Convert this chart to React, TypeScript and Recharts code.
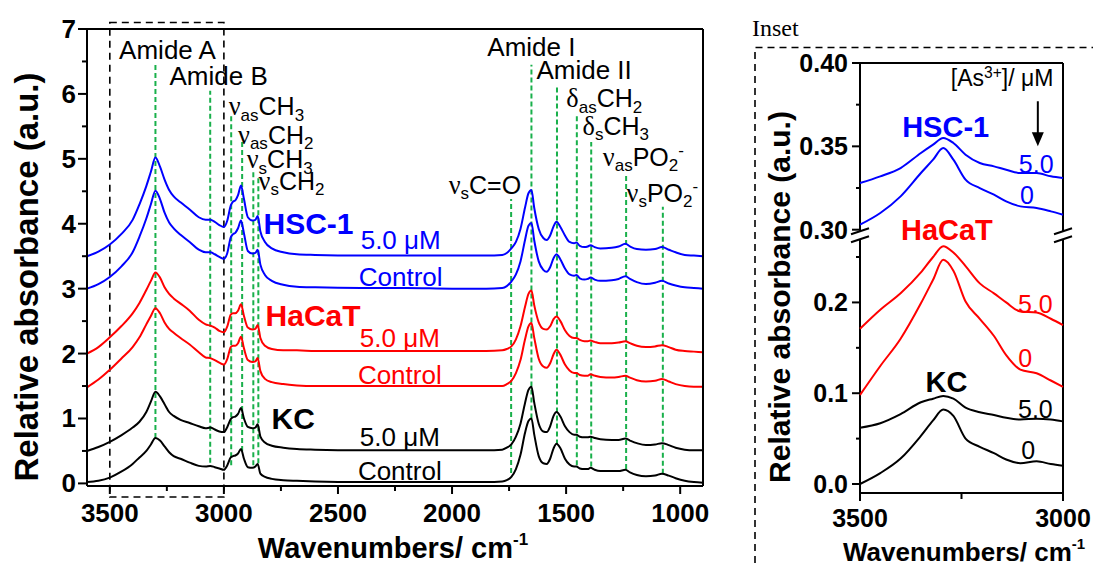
import {
  LineChart,
  Line,
  XAxis,
  YAxis,
  ReferenceLine,
  ReferenceArea,
  ReferenceDot,
} from "recharts";

// ---- main spectra (wavenumber grid + one array per sample) ----
const MAIN_WN = [
  3600, 3550, 3500, 3450, 3400, 3370, 3340, 3320, 3300, 3280,
  3260, 3240, 3220, 3190, 3150, 3110, 3080, 3060, 3040, 3020,
  3000, 2985, 2970, 2960, 2950, 2938, 2925, 2912, 2895, 2875,
  2862, 2852, 2840, 2820, 2790, 2740, 2680, 2600, 2400, 2200,
  2000, 1850, 1780, 1760, 1740, 1720, 1700, 1680, 1665, 1652,
  1640, 1620, 1600, 1585, 1570, 1555, 1542, 1525, 1505, 1485,
  1465, 1455, 1440, 1420, 1405, 1393, 1375, 1350, 1300, 1270,
  1240, 1220, 1190, 1150, 1110, 1080, 1050, 1020, 980, 940,
  900,
];

const HSC1_50 = [
  3.5, 3.57, 3.68, 3.84, 4.06, 4.3, 4.58, 4.8, 5.02, 4.88,
  4.68, 4.52, 4.42, 4.33, 4.22, 4.1, 4.06, 4.06, 4.03, 3.98,
  3.95, 4.05, 4.28, 4.34, 4.36, 4.44, 4.59, 4.38, 4.1, 4.05,
  4.06, 4.12, 3.88, 3.72, 3.62, 3.56, 3.53, 3.52, 3.51, 3.51,
  3.51, 3.51, 3.52, 3.55, 3.62, 3.72, 3.92, 4.25, 4.47, 4.52,
  4.25, 3.92, 3.78, 3.75, 3.82, 3.96, 4.03, 3.95, 3.82, 3.72,
  3.7, 3.71, 3.66, 3.64, 3.65, 3.67, 3.64, 3.62, 3.63, 3.65,
  3.69, 3.65, 3.61, 3.6, 3.61, 3.64, 3.6, 3.56, 3.52, 3.51,
  3.5,
];

const HSC1_CTRL = [
  3.0, 3.07, 3.18, 3.34, 3.56, 3.8, 4.08, 4.3, 4.51, 4.38,
  4.17, 4.02, 3.93, 3.83, 3.72, 3.6, 3.56, 3.56, 3.53, 3.49,
  3.46, 3.55, 3.79, 3.84, 3.86, 3.93, 4.05, 3.85, 3.58, 3.54,
  3.55, 3.6, 3.37, 3.21, 3.12, 3.06, 3.03, 3.02, 3.01, 3.01,
  3.0, 3.0, 3.01, 3.04, 3.11, 3.22, 3.42, 3.75, 3.97, 4.01,
  3.75, 3.42, 3.29, 3.26, 3.33, 3.47, 3.53, 3.45, 3.31, 3.22,
  3.2, 3.21, 3.16, 3.14, 3.15, 3.17, 3.14, 3.12, 3.13, 3.15,
  3.19, 3.15, 3.1, 3.07, 3.09, 3.12, 3.08, 3.05, 3.02, 3.01,
  3.0,
];

const HACAT_50 = [
  2.0, 2.1, 2.25, 2.42, 2.62, 2.78, 2.98, 3.12, 3.25, 3.17,
  3.02, 2.92, 2.85, 2.77, 2.66, 2.52, 2.45, 2.43, 2.4, 2.35,
  2.33, 2.42, 2.6, 2.62, 2.62, 2.66, 2.76, 2.58, 2.4, 2.37,
  2.38, 2.44, 2.24, 2.12, 2.07, 2.05, 2.05, 2.04, 2.04, 2.04,
  2.04, 2.04, 2.05, 2.07, 2.11, 2.22, 2.42, 2.72, 2.92, 2.97,
  2.75, 2.48, 2.38, 2.37, 2.42, 2.53, 2.57, 2.5, 2.36, 2.27,
  2.24, 2.24, 2.21, 2.19, 2.19, 2.2, 2.18, 2.16, 2.16, 2.17,
  2.19, 2.16, 2.12, 2.1, 2.11, 2.13, 2.1, 2.06, 2.04, 2.03,
  2.02,
];

const HACAT_CTRL = [
  1.48, 1.6, 1.75, 1.92, 2.1, 2.25, 2.45, 2.58, 2.7, 2.62,
  2.48, 2.38, 2.32, 2.24, 2.14, 2.02, 1.94, 1.93, 1.9, 1.86,
  1.83, 1.92, 2.1, 2.12, 2.12, 2.16, 2.26, 2.08, 1.9, 1.87,
  1.88, 1.93, 1.73, 1.61, 1.56, 1.53, 1.51, 1.5, 1.5, 1.5,
  1.5, 1.5, 1.5, 1.53, 1.58, 1.7, 1.9, 2.22, 2.42, 2.47,
  2.25, 1.92, 1.8, 1.78, 1.85, 1.99, 2.06, 1.98, 1.83, 1.74,
  1.7, 1.7, 1.67, 1.66, 1.66, 1.68, 1.66, 1.64, 1.63, 1.64,
  1.66, 1.63, 1.59, 1.57, 1.58, 1.61, 1.57, 1.53, 1.5, 1.49,
  1.49,
];

const KC_50 = [
  0.5, 0.56, 0.64, 0.74, 0.86, 0.95, 1.1, 1.26, 1.41, 1.34,
  1.22, 1.1, 1.04, 0.98, 0.93, 0.88, 0.85, 0.86, 0.83, 0.8,
  0.79, 0.87, 0.99, 1.02, 1.03, 1.07, 1.16, 1.0, 0.87, 0.85,
  0.86, 0.91, 0.72, 0.63, 0.58, 0.55, 0.53, 0.52, 0.51, 0.51,
  0.51, 0.51, 0.52, 0.55, 0.6, 0.72, 0.92, 1.24, 1.44, 1.49,
  1.25, 0.92, 0.8, 0.79, 0.88, 1.04, 1.1, 1.03, 0.88, 0.79,
  0.75, 0.75, 0.72, 0.71, 0.71, 0.72, 0.7, 0.68, 0.67, 0.67,
  0.69, 0.66, 0.62, 0.59, 0.6, 0.62, 0.59, 0.55, 0.52, 0.51,
  0.51,
];

const KC_CTRL = [
  0.02, 0.04, 0.09, 0.18, 0.3, 0.4, 0.5, 0.6, 0.7, 0.66,
  0.57, 0.48, 0.42, 0.38, 0.32, 0.27, 0.26, 0.27, 0.25, 0.23,
  0.21, 0.28, 0.4, 0.42, 0.43, 0.46, 0.53, 0.38, 0.25, 0.24,
  0.26, 0.3, 0.15, 0.1, 0.07, 0.05, 0.04, 0.03, 0.02, 0.02,
  0.02, 0.02, 0.03, 0.05, 0.1, 0.22, 0.44, 0.78, 0.96, 1.0,
  0.76, 0.42, 0.31, 0.3, 0.38, 0.54, 0.61, 0.54, 0.38, 0.29,
  0.26, 0.26, 0.23, 0.22, 0.22, 0.24, 0.21, 0.19, 0.19, 0.19,
  0.21, 0.17, 0.13, 0.11, 0.12, 0.15, 0.12, 0.08, 0.04, 0.02,
  0.01,
];

// band assignments (green dashed guides)
const BAND_WN = [3300, 3060, 2968, 2920, 2871, 2849, 1741, 1652, 1540, 1453, 1390, 1237, 1076];
const BAND_TOP = [6.46, 6.05, 5.7, 5.28, 4.83, 4.72, 4.38, 6.45, 6.14, 5.7, 5.26, 4.78, 4.26];
const BAND_BOTTOM = [0.7, 0.32, 0.28, 0.5, 0.28, 0.31, 0.16, 1.0, 0.6, 0.28, 0.26, 0.22, 0.15];

const MAIN_X_TICKS = [3500, 3250, 3000, 2750, 2500, 2250, 2000, 1750, 1500, 1250, 1000];
const MAIN_Y_TICKS = [0, 0.5, 1, 1.5, 2, 2.5, 3, 3.5, 4, 4.5, 5, 5.5, 6, 6.5, 7];

// ---- inset (Amide A region, broken y axis) ----
const INSET_WN = [3500, 3450, 3400, 3350, 3320, 3295, 3270, 3240, 3205, 3170, 3140, 3105, 3065, 3030, 3000];
const INSET_HSC1_50 = [0.328, 0.332, 0.337, 0.346, 0.351, 0.355, 0.352, 0.345, 0.34, 0.338, 0.336, 0.334, 0.334, 0.332, 0.331];
const INSET_HSC1_0 = [0.303, 0.31, 0.32, 0.334, 0.342, 0.349, 0.342, 0.33, 0.325, 0.321, 0.317, 0.314, 0.313, 0.311, 0.309];
const INSET_HACAT_50 = [0.171, 0.192, 0.21, 0.233, 0.25, 0.262, 0.255, 0.24, 0.221, 0.21, 0.2, 0.19, 0.189, 0.182, 0.175];
const INSET_HACAT_0 = [0.098, 0.13, 0.16, 0.199, 0.225, 0.247, 0.235, 0.201, 0.182, 0.163, 0.142, 0.126, 0.122, 0.114, 0.107];
const INSET_KC_50 = [0.062, 0.067, 0.077, 0.09, 0.094, 0.097, 0.094, 0.084, 0.079, 0.076, 0.073, 0.071, 0.072, 0.071, 0.069];
const INSET_KC_0 = [0.0, 0.012, 0.028, 0.053, 0.07, 0.082, 0.075, 0.05, 0.041, 0.034, 0.027, 0.023, 0.025, 0.022, 0.02];

const INSET_X_TICKS = [3500, 3250, 3000];
const INSET_Y_TICKS = [0, 0.05, 0.1, 0.15, 0.2, 0.25, 0.3, 0.325, 0.35, 0.375, 0.4];

// upper part of the broken axis (>= 0.30) is stretched and shifted
const UPPER_BASE = 0.2801;
const UPPER_STRETCH = 1.836;
const toInset = (v: number) => (v >= 0.29 ? UPPER_BASE + (v - 0.3) * UPPER_STRETCH : v);
const INSET_TOP = toInset(0.4);
const INSET_BOTTOM = -0.0099;

const FONT = "'Liberation Sans', Arial, Helvetica, sans-serif";
const SERIF = "'Liberation Serif', 'Times New Roman', serif";
const BLUE = "#0000ff";
const RED = "#ff0000";
const GREEN = "#19b04b";

const zip = (wn: number[], vals: number[], f = (v: number) => v) =>
  wn.map((w, i) => ({ w, v: f(vals[i]) }));

const mainSeries = [
  { key: "hsc50", values: HSC1_50, color: BLUE },
  { key: "hsc0", values: HSC1_CTRL, color: BLUE },
  { key: "hac50", values: HACAT_50, color: RED },
  { key: "hac0", values: HACAT_CTRL, color: RED },
  { key: "kc50", values: KC_50, color: "#000" },
  { key: "kc0", values: KC_CTRL, color: "#000" },
];

const insetSeries = [
  { key: "i-hsc50", values: INSET_HSC1_50, color: BLUE },
  { key: "i-hsc0", values: INSET_HSC1_0, color: BLUE },
  { key: "i-hac50", values: INSET_HACAT_50, color: RED },
  { key: "i-hac0", values: INSET_HACAT_0, color: RED },
  { key: "i-kc50", values: INSET_KC_50, color: "#000" },
  { key: "i-kc0", values: INSET_KC_0, color: "#000" },
];

// text with sub/superscripts: [text, "sub" | "sup"]; first tspan carries the centring offset
type Part = [string, string?];
const rich = (parts: Part[], size: number) => {
  let shift = 0;
  return parts.map(([t, kind], i) => {
    const target = kind === "sub" ? size * 0.22 : kind === "sup" ? -size * 0.38 : 0;
    const dy = target - shift + (i === 0 ? size * 0.36 : 0);
    shift = target;
    const greek = t === "ν" || t === "δ";
    return (
      <tspan
        key={i}
        dy={dy}
        fontSize={kind ? size * 0.68 : greek ? size * 1.05 : size}
        fontFamily={greek ? SERIF : undefined}
      >
        {t}
      </tspan>
    );
  });
};

const tag = (
  key: string,
  x: number,
  y: number,
  parts: Part[],
  size = 26,
  color = "#000",
  anchor: "start" | "middle" | "end" = "middle",
  bold = false
) => (
  <ReferenceDot
    key={key}
    x={x}
    y={y}
    r={0}
    ifOverflow="visible"
    shape={(p: any) => (
      <text
        x={p.cx}
        y={p.cy}
        textAnchor={anchor}
        fill={color}
        fontFamily={FONT}
        fontWeight={bold ? "bold" : "normal"}
        fontSize={size}
      >
        {rich(parts, size)}
      </text>
    )}
  />
);

function MainBottomTick(props: any) {
  const { x, y, payload } = props;
  const major = payload.value % 500 === 0;
  return (
    <g>
      <line x1={x} x2={x} y1={y} y2={y + (major ? 8 : 5)} stroke="#000" strokeWidth={2} />
      {major && (
        <text x={x} y={y + 36} textAnchor="middle" fontFamily={FONT} fontWeight="bold" fontSize={26} fill="#000">
          {payload.value}
        </text>
      )}
    </g>
  );
}

function MainLeftTick(props: any) {
  const { x, y, payload } = props;
  const major = payload.value % 1 === 0;
  return (
    <g>
      <line x1={x - (major ? 9 : 5)} x2={x} y1={y} y2={y} stroke="#000" strokeWidth={2} />
      {major && (
        <text x={x - 11} y={y} dy={9} textAnchor="end" fontFamily={FONT} fontWeight="bold" fontSize={26} fill="#000">
          {payload.value}
        </text>
      )}
    </g>
  );
}

function InsetBottomTick(props: any) {
  const { x, y, payload } = props;
  const major = payload.value % 500 === 0;
  return (
    <g>
      <line x1={x} x2={x} y1={y} y2={y + (major ? 8 : 6)} stroke="#000" strokeWidth={2} />
      {major && (
        <text x={x} y={y + 34} textAnchor="middle" fontFamily={FONT} fontWeight="bold" fontSize={25} fill="#000">
          {payload.value}
        </text>
      )}
    </g>
  );
}

function InsetLeftTick(props: any) {
  const { x, y, payload } = props;
  const real = INSET_Y_TICKS.reduce((best, t) =>
    Math.abs(toInset(t) - payload.value) < Math.abs(toInset(best) - payload.value) ? t : best
  );
  const upper = real >= 0.3;
  const major = upper ? Math.round(real * 1000) % 50 === 0 : Math.round(real * 1000) % 100 === 0;
  const label = upper ? real.toFixed(2) : real.toFixed(1);
  return (
    <g>
      <line x1={x - (major ? 8 : 4)} x2={x} y1={y} y2={y} stroke="#000" strokeWidth={2} />
      {major && (
        <text x={x - 12} y={y} dy={9} textAnchor="end" fontFamily={FONT} fontWeight="bold" fontSize={25} fill="#000">
          {label}
        </text>
      )}
    </g>
  );
}

const breakMark = (p: any) => (
  <g stroke="#000" strokeWidth={2}>
    <line x1={p.cx - 9} y1={p.cy - 1} x2={p.cx + 9} y2={p.cy - 7} />
    <line x1={p.cx - 9} y1={p.cy + 7} x2={p.cx + 9} y2={p.cy + 1} />
  </g>
);

const arrowDown = (p: any) => (
  <g>
    <line x1={p.cx} y1={p.cy - 45} x2={p.cx} y2={p.cy - 10} stroke="#000" strokeWidth={2} />
    <polygon points={`${p.cx - 6},${p.cy - 14} ${p.cx + 6},${p.cy - 14} ${p.cx},${p.cy}`} fill="#000" />
  </g>
);

const MainChart = () => (
  <LineChart width={720} height={563} margin={{ top: 19, right: 0, bottom: 0, left: 0 }}>
    <XAxis
      dataKey="w"
      type="number"
      domain={[900, 3600]}
      reversed
      ticks={MAIN_X_TICKS}
      interval={0}
      height={77}
      tickSize={0}
      tickMargin={0}
      tickLine={false}
      tick={(p: any) => <MainBottomTick {...p} />}
      axisLine={{ stroke: "#000", strokeWidth: 2 }}
    />
    <XAxis
      xAxisId="top"
      orientation="top"
      dataKey="w"
      type="number"
      domain={[900, 3600]}
      reversed
      ticks={MAIN_X_TICKS}
      interval={0}
      height={10}
      tickSize={4}
      tick={false}
      tickLine={{ stroke: "#000", strokeWidth: 2 }}
      axisLine={{ stroke: "#000", strokeWidth: 2 }}
    />
    <YAxis
      type="number"
      domain={[-0.04, 7]}
      allowDataOverflow
      ticks={MAIN_Y_TICKS}
      interval={0}
      width={87}
      tickSize={0}
      tickMargin={0}
      tickLine={false}
      tick={(p: any) => <MainLeftTick {...p} />}
      axisLine={{ stroke: "#000", strokeWidth: 2 }}
    />
    <YAxis
      yAxisId="right"
      orientation="right"
      type="number"
      domain={[-0.04, 7]}
      allowDataOverflow
      ticks={MAIN_Y_TICKS}
      interval={0}
      width={17}
      tickSize={5}
      tick={false}
      tickLine={{ stroke: "#000", strokeWidth: 2 }}
      axisLine={{ stroke: "#000", strokeWidth: 2 }}
    />

    <ReferenceArea
      x1={3500}
      x2={3000}
      y1={-0.21}
      y2={7.1}
      ifOverflow="visible"
      fill="none"
      stroke="#000"
      strokeWidth={1.6}
      strokeDasharray="7 5"
    />
    {BAND_WN.map((w, i) => (
      <ReferenceLine
        key={`band-${w}`}
        segment={[
          { x: w, y: BAND_BOTTOM[i] },
          { x: w, y: BAND_TOP[i] },
        ]}
        stroke={GREEN}
        strokeWidth={2}
        strokeDasharray="5 3"
        ifOverflow="visible"
      />
    ))}

    {mainSeries.map((s) => (
      <Line
        key={s.key}
        data={zip(MAIN_WN, s.values)}
        dataKey="v"
        type="monotone"
        stroke={s.color}
        strokeWidth={2}
        dot={false}
        activeDot={false}
        isAnimationActive={false}
      />
    ))}

    {tag("amA", 3247, 6.68, [["Amide A"]])}
    {tag("amB", 3023, 6.28, [["Amide B"]])}
    {tag("vasCH3", 2979, 5.81, [["ν"], ["as", "sub"], ["CH"], ["3", "sub"]], 25, "#000", "start")}
    {tag("vasCH2", 2938, 5.37, [["ν"], ["as", "sub"], ["CH"], ["2", "sub"]], 25, "#000", "start")}
    {tag("vsCH3", 2900, 4.99, [["ν"], ["s", "sub"], ["CH"], ["3", "sub"]], 25, "#000", "start")}
    {tag("vsCH2", 2848, 4.66, [["ν"], ["s", "sub"], ["CH"], ["2", "sub"]], 25, "#000", "start")}
    {tag("amI", 1652, 6.73, [["Amide I"]])}
    {tag("amII", 1630, 6.37, [["Amide II"]], 26, "#000", "start")}
    {tag("dasCH2", 1499, 5.93, [["δ"], ["as", "sub"], ["CH"], ["2", "sub"]], 25, "#000", "start")}
    {tag("dsCH3", 1428, 5.51, [["δ"], ["s", "sub"], ["CH"], ["3", "sub"]], 25, "#000", "start")}
    {tag("vasPO2", 1339, 5.03, [["ν"], ["as", "sub"], ["PO"], ["2", "sub"], ["-", "sup"]], 25, "#000", "start")}
    {tag("vsPO2", 1235, 4.48, [["ν"], ["s", "sub"], ["PO"], ["2", "sub"], ["-", "sup"]], 25, "#000", "start")}
    {tag("vsCO", 1697, 4.6, [["ν"], ["s", "sub"], ["C=O"]], 25, "#000", "end")}

    {tag("hsc", 2629, 4.01, [["HSC-1"]], 30, BLUE, "middle", true)}
    {tag("hsc50l", 2225, 3.75, [["5.0 μM"]], 26, BLUE)}
    {tag("hsc0l", 2225, 3.18, [["Control"]], 26, BLUE)}
    {tag("hac", 2609, 2.59, [["HaCaT"]], 30, RED, "middle", true)}
    {tag("hac50l", 2229, 2.25, [["5.0 μM"]], 26, RED)}
    {tag("hac0l", 2229, 1.67, [["Control"]], 26, RED)}
    {tag("kc", 2696, 1.0, [["KC"]], 30, "#000", "middle", true)}
    {tag("kc50l", 2229, 0.72, [["5.0 μM"]], 26, "#000")}
    {tag("kc0l", 2229, 0.19, [["Control"]], 26, "#000")}
  </LineChart>
);

const InsetChart = () => (
  <LineChart width={353} height={563} margin={{ top: 63, right: 0, bottom: 0, left: 0 }}>
    <XAxis
      dataKey="w"
      type="number"
      domain={[3000, 3500]}
      reversed
      ticks={INSET_X_TICKS}
      interval={0}
      height={70}
      tickSize={0}
      tickMargin={0}
      tickLine={false}
      tick={(p: any) => <InsetBottomTick {...p} />}
      axisLine={{ stroke: "#000", strokeWidth: 2 }}
    />
    <YAxis
      type="number"
      domain={[INSET_BOTTOM, INSET_TOP]}
      allowDataOverflow
      ticks={INSET_Y_TICKS.map(toInset)}
      interval={0}
      width={120}
      tickSize={0}
      tickMargin={0}
      tickLine={false}
      tick={(p: any) => <InsetLeftTick {...p} />}
      axisLine={false}
    />
    <YAxis
      yAxisId="right"
      orientation="right"
      type="number"
      domain={[INSET_BOTTOM, INSET_TOP]}
      allowDataOverflow
      ticks={INSET_Y_TICKS.map(toInset)}
      interval={0}
      width={30}
      tickSize={4}
      tick={false}
      tickLine={{ stroke: "#000", strokeWidth: 2 }}
      axisLine={false}
    />

    {/* frame with gaps at the axis break */}
    <ReferenceLine y={INSET_TOP} stroke="#000" strokeWidth={2} ifOverflow="visible" />
    {[3500, 3000].map((x) => (
      <ReferenceLine
        key={`lo-${x}`}
        segment={[
          { x, y: INSET_BOTTOM },
          { x, y: 0.2695 },
        ]}
        stroke="#000"
        strokeWidth={2}
        ifOverflow="visible"
      />
    ))}
    {[3500, 3000].map((x) => (
      <ReferenceLine
        key={`hi-${x}`}
        segment={[
          { x, y: 0.2785 },
          { x, y: INSET_TOP },
        ]}
        stroke="#000"
        strokeWidth={2}
        ifOverflow="visible"
      />
    ))}
    {[3500, 3000].map((x) => (
      <ReferenceDot key={`brk-${x}`} x={x} y={0.274} r={0} ifOverflow="visible" shape={breakMark} />
    ))}

    {insetSeries.map((s) => (
      <Line
        key={s.key}
        data={zip(INSET_WN, s.values, toInset)}
        dataKey="v"
        type="monotone"
        stroke={s.color}
        strokeWidth={2}
        dot={false}
        activeDot={false}
        isAnimationActive={false}
      />
    ))}

    {tag("as", 3150, 0.447, [["[As"], ["3+", "sup"], ["]/ μM"]], 23)}
    <ReferenceDot x={3062} y={0.372} r={0} ifOverflow="visible" shape={arrowDown} />
    {tag("ihsc", 3289, 0.394, [["HSC-1"]], 29, BLUE, "middle", true)}
    {tag("ihsc50", 3066, 0.3528, [["5.0"]], 25, BLUE)}
    {tag("ihsc0", 3089, 0.318, [["0"]], 25, BLUE)}
    {tag("ihac", 3286, 0.2804, [["HaCaT"]], 29, RED, "middle", true)}
    {tag("ihac50", 3068, 0.1986, [["5.0"]], 25, RED)}
    {tag("ihac0", 3093, 0.1388, [["0"]], 25, RED)}
    {tag("ikc", 3287, 0.1123, [["KC"]], 29, "#000", "middle", true)}
    {tag("ikc50", 3068, 0.0829, [["5.0"]], 25, "#000")}
    {tag("ikc0", 3086, 0.037, [["0"]], 25, "#000")}
  </LineChart>
);

export default function App() {
  return (
    <div
      style={{
        position: "absolute",
        left: 0,
        top: 0,
        width: 1093,
        height: 563,
        background: "#fff",
        overflow: "hidden",
      }}
    >
      <div style={{ position: "absolute", left: 0, top: 0 }}>
        <MainChart />
      </div>
      <div style={{ position: "absolute", left: 740, top: 0 }}>
        <InsetChart />
      </div>
      <svg
        width={1093}
        height={563}
        style={{ position: "absolute", left: 0, top: 0, pointerEvents: "none" }}
      >
        {/* axis titles */}
        <text
          transform="rotate(-90, 38, 277)"
          x={38}
          y={277}
          textAnchor="middle"
          fontFamily={FONT}
          fontWeight="bold"
          fontSize={33}
        >
          Relative absorbance (a.u.)
        </text>
        <text x={393} y={558} textAnchor="middle" fontFamily={FONT} fontWeight="bold" fontSize={29}>
          Wavenumbers/ cm
          <tspan dy={-13} fontSize={17}>
            -1
          </tspan>
        </text>
        <text
          transform="rotate(-90, 790, 297)"
          x={790}
          y={297}
          textAnchor="middle"
          fontFamily={FONT}
          fontWeight="bold"
          fontSize={30}
        >
          Relative absorbance (a.u.)
        </text>
        <text x={843} y={561} fontFamily={FONT} fontWeight="bold" fontSize={26}>
          Wavenumbers/ cm
          <tspan dy={-12} fontSize={15}>
            -1
          </tspan>
        </text>

        {/* inset frame */}
        <text x={752} y={36} fontFamily={SERIF} fontSize={24}>
          Inset
        </text>
        <path d="M 755 563 V 47.5 H 1093" fill="none" stroke="#000" strokeWidth={1.6} strokeDasharray="7 5" />
      </svg>
    </div>
  );
}
